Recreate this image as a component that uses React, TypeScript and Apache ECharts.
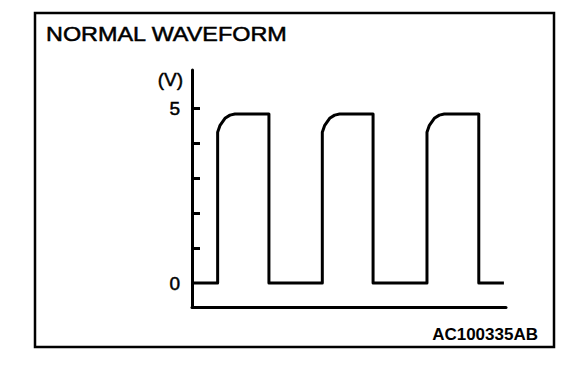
import React, { useEffect, useRef } from "react";
import * as echarts from "echarts";

// Waveform: time (arbitrary units) and voltage (V)
const waveT = [
  0, 2.45, 2.45, 2.68, 3.15, 3.63, 4.1, 7.35, 7.35,
  12.45, 12.45, 12.68, 13.15, 13.63, 14.1, 17.3, 17.3,
  22.45, 22.45, 22.68, 23.15, 23.63, 24.1, 27.4, 27.4, 29.8,
];
const waveV = [
  0, 0, 4.31, 4.51, 4.71, 4.8, 4.83, 4.83, 0,
  0, 4.31, 4.51, 4.71, 4.8, 4.83, 4.83, 0,
  0, 4.31, 4.51, 4.71, 4.8, 4.83, 4.83, 0, 0,
];
const yTickValues = [1, 2, 3, 4, 5];
const yLabelValues = [0, 5];
const titleText = "NORMAL WAVEFORM";
const unitText = "(V)";
const codeText = "AC100335AB";

export default function App() {
  const ref = useRef<HTMLDivElement>(null);
  useEffect(() => {
    if (!ref.current) return;
    const chart = echarts.init(ref.current, null, { renderer: "svg" });
    const data = waveT.map((t, i) => [t, waveV[i]]);
    chart.setOption({
      animation: false,
      backgroundColor: "#ffffff",
      grid: { left: 192, right: 70, top: 70, bottom: 65, containLabel: false },
      xAxis: {
        type: "value",
        min: 0,
        max: 30,
        axisLine: { show: true, onZero: false, lineStyle: { color: "#000", width: 3 } },
        axisTick: { show: false },
        axisLabel: { show: false },
        splitLine: { show: false },
      },
      yAxis: {
        type: "value",
        min: -0.686,
        max: 6.09,
        name: unitText,
        nameLocation: "end",
        nameGap: -9,
        nameTextStyle: {
          fontFamily: "Liberation Sans",
          fontSize: 19,
          color: "#000",
          textBorderColor: "#000",
          textBorderWidth: 0.5,
          align: "right",
          verticalAlign: "middle",
          padding: [0, 9, 0, 0],
        },
        axisLine: { show: true, lineStyle: { color: "#000", width: 3 } },
        axisTick: {
          show: true,
          inside: true,
          length: 8,
          customValues: yTickValues,
          lineStyle: { color: "#000", width: 3 },
        },
        axisLabel: {
          customValues: yLabelValues,
          margin: 12,
          fontFamily: "Liberation Sans",
          fontSize: 19,
          color: "#000",
          textBorderColor: "#000",
          textBorderWidth: 0.5,
        },
        splitLine: { show: false },
      },
      graphic: [
        {
          type: "rect",
          shape: { x: 35, y: 13, width: 519, height: 334 },
          style: { fill: "none", stroke: "#000", lineWidth: 2.5 },
          silent: true,
        },
        {
          type: "text",
          x: 46,
          y: 34,
          scaleX: 1.17,
          style: {
            text: titleText,
            fontFamily: "Liberation Sans",
            fontSize: 20,
            fill: "#000",
            stroke: "#000",
            lineWidth: 0.5,
            textAlign: "left",
            textVerticalAlign: "middle",
          },
        },
        {
          type: "text",
          x: 538,
          y: 334,
          style: {
            text: codeText,
            fontFamily: "Liberation Sans",
            fontSize: 17,
            fontWeight: "bold",
            fill: "#000",
            textAlign: "right",
            textVerticalAlign: "middle",
          },
        },
      ],
      series: [
        {
          type: "line",
          data,
          showSymbol: false,
          symbol: "none",
          lineStyle: { color: "#000", width: 3, join: "round" },
        },
      ],
    });
    return () => chart.dispose();
  }, []);
  return (
    <div
      ref={ref}
      style={{ position: "fixed", left: 0, top: 0, width: 576, height: 372 }}
    />
  );
}
